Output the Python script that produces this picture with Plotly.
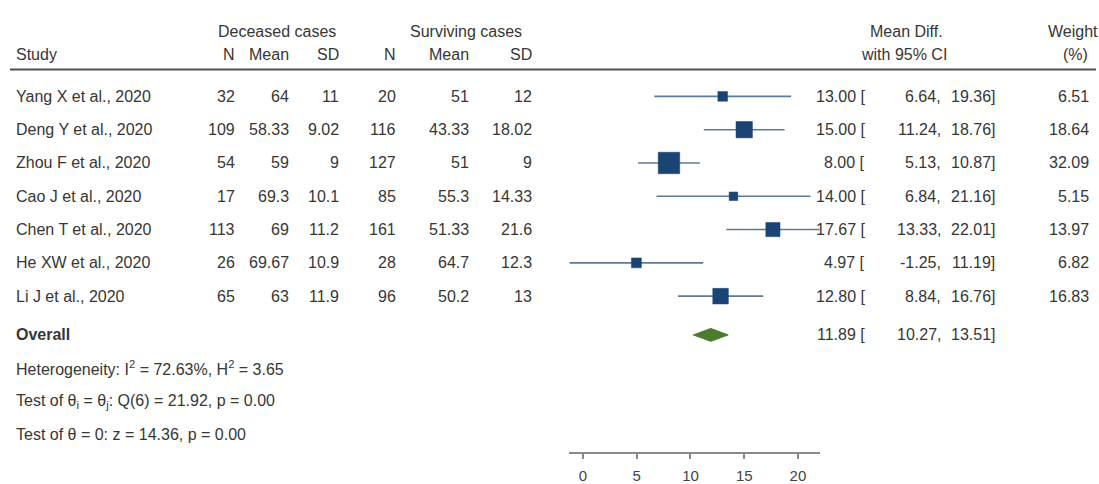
import plotly.graph_objects as go
import math

studies = ["Yang X et al., 2020", "Deng Y et al., 2020", "Zhou F et al., 2020",
           "Cao J et al., 2020", "Chen T et al., 2020", "He XW et al., 2020", "Li J et al., 2020"]
n_dec = ["32", "109", "54", "17", "113", "26", "65"]
mean_dec = ["64", "58.33", "59", "69.3", "69", "69.67", "63"]
sd_dec = ["11", "9.02", "9", "10.1", "11.2", "10.9", "11.9"]
n_sur = ["20", "116", "127", "85", "161", "28", "96"]
mean_sur = ["51", "43.33", "51", "55.3", "51.33", "64.7", "50.2"]
sd_sur = ["12", "18.02", "9", "14.33", "21.6", "12.3", "13"]
md = [13.00, 15.00, 8.00, 14.00, 17.67, 4.97, 12.80]
ci_lo = [6.64, 11.24, 5.13, 6.84, 13.33, -1.25, 8.84]
ci_hi = [19.36, 18.76, 10.87, 21.16, 22.01, 11.19, 16.76]
weight = [6.51, 18.64, 32.09, 5.15, 13.97, 6.82, 16.83]
overall = (11.89, 10.27, 13.51)
stats_lines = ["Heterogeneity: I<sup>2</sup> = 72.63%, H<sup>2</sup> = 3.65",
               "Test of θ<sub>i</sub> = θ<sub>j</sub>: Q(6) = 21.92, p = 0.00",
               "Test of θ = 0: z = 14.36, p = 0.00"]
xticks = [0, 5, 10, 15, 20]

W, H = 1099, 484
FONT = "Liberation Sans, Arial, sans-serif"
TXT = "#363636"
FS = 16
NAVY = "#1b4474"
CI_COL = "#5d7a98"
GREEN = "#4b7b2b"

row0, step = 97, 33.5
rows_y = [row0 + step * i for i in range(len(studies))]
y_overall = 337
y_stats = [370, 404, 437]
AX_Y = 455

fig = go.Figure()

for i in range(len(studies)):
    fig.add_trace(go.Scatter(x=[ci_lo[i], ci_hi[i]], y=[rows_y[i], rows_y[i]], mode="lines",
                             line=dict(color=CI_COL, width=1.6), hoverinfo="skip", showlegend=False))
fig.add_trace(go.Scatter(x=md, y=rows_y, mode="markers",
                         marker=dict(symbol="square", color=NAVY, opacity=1,
                                     size=[3.8 * math.sqrt(w) for w in weight],
                                     line=dict(width=0.5, color=NAVY)),
                         showlegend=False))
dh = 6.5
fig.add_trace(go.Scatter(x=[overall[1], overall[0], overall[2], overall[0], overall[1]],
                         y=[y_overall, y_overall - dh, y_overall, y_overall + dh, y_overall],
                         mode="lines", fill="toself", fillcolor=GREEN, line=dict(color=GREEN, width=1),
                         showlegend=False))

ann = []
def t(x, y, s, anchor="left"):
    ann.append(dict(x=x / W, y=y, xref="paper", yref="y", text=s, showarrow=False,
                    xanchor=anchor, yanchor="middle", font=dict(family=FONT, size=FS, color=TXT)))

t(277, 32, "Deceased cases", "center")
t(466, 32, "Surviving cases", "center")
t(906, 32, "Mean Diff.", "center")
t(1073, 32, "Weight", "center")
t(14, 55, "Study")
for x, s in [(237, "N"), (291, "Mean"), (341, "SD"), (398, "N"), (471, "Mean"), (534, "SD")]:
    t(x, 55, s, "right")
t(904, 55, "with 95% CI", "center")
t(1075, 55, "(%)", "center")

cols = [(237, n_dec), (291, mean_dec), (341, sd_dec), (398, n_sur), (471, mean_sur), (534, sd_sur)]
for i, y in enumerate(rows_y):
    t(14, y, studies[i])
    for x, arr in cols:
        t(x, y, arr[i], "right")
    t(867, y, f"{md[i]:.2f} [", "right")
    t(943, y, f"{ci_lo[i]:.2f},", "right")
    t(997, y, f"{ci_hi[i]:.2f}]", "right")
    t(1091, y, f"{weight[i]:.2f}", "right")

t(14, y_overall, "<b>Overall</b>")
t(867, y_overall, f"{overall[0]:.2f} [", "right")
t(943, y_overall, f"{overall[1]:.2f},", "right")
t(997, y_overall, f"{overall[2]:.2f}]", "right")
for y, s in zip(y_stats, stats_lines):
    t(14, y, s)

fig.add_shape(type="line", xref="paper", yref="y", x0=10 / W, x1=1096 / W, y0=70, y1=70,
              line=dict(color="#505050", width=2))

fig.update_layout(
    width=W, height=H, margin=dict(l=0, r=0, t=0, b=0),
    paper_bgcolor="white", plot_bgcolor="white", annotations=ann,
    xaxis=dict(domain=[569 / W, 820 / W], range=[-1.30, 22.05], tickvals=xticks,
               showline=True, linecolor="#8a8a8a", linewidth=2, ticks="outside", ticklen=5,
               tickcolor="#8a8a8a", tickwidth=1.5, showgrid=False, zeroline=False,
               ticklabelstandoff=4,
               tickfont=dict(family=FONT, size=15, color="#444444")),
    yaxis=dict(domain=[1 - AX_Y / H, 1], range=[AX_Y, 0], visible=False, showgrid=False, zeroline=False),
)
fig.write_html("out.html", config={"displayModeBar": False},
               post_script="document.body.style.margin='0';document.body.style.overflow='hidden';")
